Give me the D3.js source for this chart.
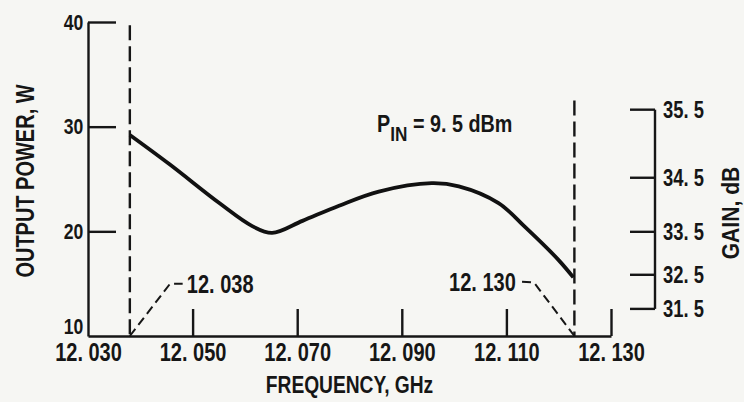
<!DOCTYPE html>
<html>
<head>
<meta charset="utf-8">
<script src="https://cdn.jsdelivr.net/npm/d3@7"></script>
<style>
  body { margin: 0; background: #f6f6f3; }
  svg { display: block; }
  text { font-family: "Liberation Sans", Arial, sans-serif; font-weight: bold; fill: #161616; }
</style>
</head>
<body>
<div id="chart"></div>
<script>
// frequency (GHz) vs output power (W)
var freq  = [12.038, 12.0456, 12.0551, 12.0614, 12.0652, 12.0710, 12.0780, 12.0856, 12.0957, 12.1009, 12.1085, 12.1136, 12.1199, 12.1228];
var power = [29.2,   26.4,    22.7,    20.5,    19.85,   21.0,    22.45,   23.8,    24.6,    24.3,    22.7,    20.4,    17.3,    15.6];

var freqTicks  = [12.030, 12.050, 12.070, 12.090, 12.110, 12.130];
var powerTicks = [10, 20, 30, 40];
var gainTicks  = [35.5, 34.5, 33.5, 32.5, 31.5];
var pinDbm = 9.5;

// band edges and their callouts
var edges = [12.038, 12.123];
var edgeLabels = ["12. 038", "12. 130"];

var w = 744, h = 402;
var squeeze = "scale(0.8,1)";   // the original lettering is condensed

var svg = d3.select("#chart").append("svg")
    .attr("width", w)
    .attr("height", h);

var x = d3.scaleLinear().domain([12.030, 12.130]).range([88, 611]);
var y = d3.scaleLinear().domain([10, 40]).range([336, 22]);

// gain in dB -> output power in W for the given input power
function gainToW(g) { return Math.pow(10, (pinDbm + g) / 10) / 1000; }

function label(px, py, str, size, anchor, rot, sq) {
    var g = svg.append("g")
        .attr("transform", "translate(" + px + "," + py + ")" + (rot ? " rotate(" + rot + ")" : ""));
    return g.append("text")
        .attr("transform", sq ? "scale(" + sq + ",1)" : squeeze)
        .attr("text-anchor", anchor || "start")
        .attr("font-size", size)
        .text(str);
}

var fmt = function (d) { return d.toFixed(3).replace(".", ". "); };

// x axis, ticks pointing up
var xAxis = d3.axisBottom(x).tickValues(freqTicks).tickFormat(fmt)
    .tickSizeInner(-27).tickSizeOuter(0).tickPadding(4);
var gx = svg.append("g")
    .attr("transform", "translate(0," + y(10) + ")")
    .call(xAxis);
gx.select(".domain").attr("stroke", "#161616").attr("stroke-width", 2.4);
gx.selectAll(".tick line").attr("stroke", "#161616").attr("stroke-width", 2.4);
gx.selectAll(".tick text").attr("font-size", 25).attr("fill", "#161616")
    .attr("dy", "0.84em").attr("transform", squeeze);
gx.selectAll(".tick").filter(function (d) { return d === 12.030; }).select("line").remove();

// left axis, ticks pointing right
var yAxis = d3.axisLeft(y).tickValues(powerTicks).tickFormat(d3.format("d"))
    .tickSizeInner(-28).tickSizeOuter(0).tickPadding(6);
var gy = svg.append("g")
    .attr("transform", "translate(" + x(12.030) + ",0)")
    .call(yAxis);
gy.select(".domain").attr("stroke", "#161616").attr("stroke-width", 2.4);
gy.selectAll(".tick line").attr("stroke", "#161616").attr("stroke-width", 2.4);
gy.selectAll(".tick text").attr("font-size", 22).attr("fill", "#161616").attr("transform", squeeze);
gy.selectAll(".tick").filter(function (d) { return d === 10; }).select("line").remove();
gy.selectAll(".tick").filter(function (d) { return d === 10; }).select("text").attr("dy", "-0.12em");

// right gain axis
var gainX = 655;
var gg = svg.append("g");
gg.append("line")
    .attr("x1", gainX).attr("x2", gainX)
    .attr("y1", y(gainToW(d3.max(gainTicks))))
    .attr("y2", y(gainToW(d3.min(gainTicks))))
    .attr("stroke", "#161616").attr("stroke-width", 2.4);
gg.selectAll(".gtick")
    .data(gainTicks)
    .enter()
    .append("line")
    .attr("x1", gainX - 25).attr("x2", gainX)
    .attr("y1", function (d) { return y(gainToW(d)); })
    .attr("y2", function (d) { return y(gainToW(d)); })
    .attr("stroke", "#161616").attr("stroke-width", 2.4);
gainTicks.forEach(function (d) {
    label(gainX + 8, y(gainToW(d)), d.toFixed(1).replace(".", ". "), 23).attr("dy", "0.36em");
});

// dashed band edges
svg.selectAll(".edge")
    .data(edges)
    .enter()
    .append("line")
    .attr("x1", function (d) { return x(d); })
    .attr("x2", function (d) { return x(d); })
    .attr("y1", function (d, i) { return i === 0 ? y(39.7) : y(32.5); })
    .attr("y2", y(10))
    .attr("stroke", "#161616").attr("stroke-width", 2.4)
    .attr("stroke-dasharray", "15,6");

// callout leaders
var lead1 = [[x(edges[0]), y(10)], [x(12.0457), y(15)], [x(12.0481), y(15)]];
var lead2 = [[x(edges[1]), y(10)], [x(12.1153), y(15.1)], [x(12.1128), y(15.2)]];
[lead1, lead2].forEach(function (pts) {
    svg.append("path")
        .attr("d", d3.line()(pts))
        .attr("fill", "none").attr("stroke", "#161616").attr("stroke-width", 2)
        .attr("stroke-dasharray", "9,5");
});
label(x(12.0489), y(15), edgeLabels[0], 25).attr("dy", "0.36em");
label(x(12.1118), y(15.2), edgeLabels[1], 25, "end").attr("dy", "0.36em");

// the curve
var line = d3.line()
    .x(function (d, i) { return x(freq[i]); })
    .y(function (d) { return y(d); })
    .curve(d3.curveCatmullRom.alpha(0.5));
svg.append("path")
    .datum(power)
    .attr("d", line)
    .attr("fill", "none")
    .attr("stroke", "#111")
    .attr("stroke-width", 3.8)
    .attr("stroke-linejoin", "round");

// P_IN note
var note = label(377, 132, "", 23, "start", 0, 0.86);
note.append("tspan").text("P");
note.append("tspan").attr("dy", 9).attr("font-size", 20).text("IN");
note.append("tspan").attr("dy", -9).text(" = 9. 5  dBm");

// axis titles
label((x(12.030) + x(12.130)) / 2, 393, "FREQUENCY, GHz", 24, "middle");
label(34, 181, "OUTPUT POWER, W", 25, "middle", -90);
label(739, 213, "GAIN, dB", 24, "middle", -90, 0.88);
</script>
</body>
</html>
